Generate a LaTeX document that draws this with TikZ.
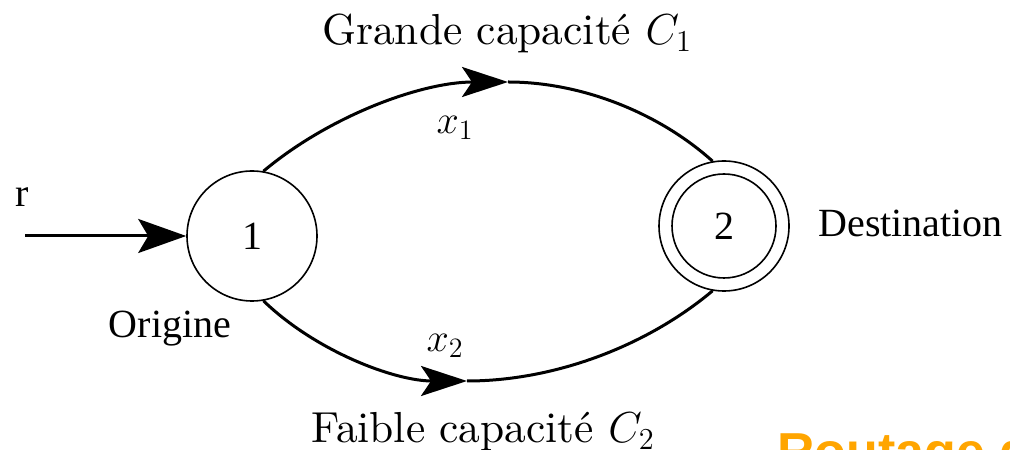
\RequirePackage{fix-cm}
\documentclass[tikz,border=0pt]{standalone}
\usepackage{fontspec}
\newfontfamily\tmsfont{Liberation Serif}
\newfontfamily\arialfont{Liberation Sans}
\newfontfamily\cmten{lmroman10-regular.otf}
\usetikzlibrary{arrows.meta}
\definecolor{titleorange}{RGB}{255,165,0}
\begin{document}
\begin{tikzpicture}[x=0.5pt,y=0.5pt,
  state/.style={circle,draw,line width=0.8pt,minimum size=65pt,inner sep=0pt,font=\tmsfont\fontsize{20}{24}\selectfont},
  flow/.style={line width=1.5pt},
  head/.style={-{Stealth[length=23pt,width=15pt,inset=5pt]}},
  lbl/.style={font=\cmten\fontsize{20}{24}\selectfont, inner sep=0pt, anchor=base},
  elbl/.style={font=\cmten\fontsize{21.7}{26}\selectfont, inner sep=0pt, anchor=base},
  tlbl/.style={font=\tmsfont\fontsize{20}{24}\selectfont, inner sep=0pt, anchor=base}]
\useasboundingbox (0,0) rectangle (1010,449);
\node[state] (n1) at (252,213) {1};
\node[state] (n2) at (724,223) {2};
\draw[line width=0.8pt] (n2.center) circle[radius=52];
\coordinate (t1) at (508,367);
\coordinate (t2) at (467,68);
\coordinate (src) at (25,213);
\draw[flow,head] (n1.80) to[out=40,in=180,looseness=0.85] (t1);
\draw[flow] (t1) to[out=0,in=138,looseness=0.85] (n2.100);
\draw[flow,head] (n1.280) to[out=-44,in=180,looseness=0.85] (t2);
\draw[flow] (t2) to[out=0,in=-140,looseness=0.85] (n2.260);
\draw[flow,-{Stealth[length=24pt,width=17pt,inset=5pt]}] (src) -- (n1);
\node[tlbl] (r) at (22,242) {r};
\node[tlbl] (orig) at (170,111) {Origine};
\node[tlbl,anchor=base west] (dest) at (818,212) {Destination};
\node[elbl] (c1) at (507,404) {Grande capacité $C_1$};
\node[lbl] (x1) at (455,315) {$x_1$};
\node[lbl] (x2) at (445,97) {$x_2$};
\node[elbl] (c2) at (483,6) {Faible capacité $C_2$};
\node[anchor=base west, inner sep=0pt, font=\arialfont\bfseries\fontsize{26}{30}\selectfont, text=titleorange] (title) at (777,-20) {Routage d};
\end{tikzpicture}
\end{document}
